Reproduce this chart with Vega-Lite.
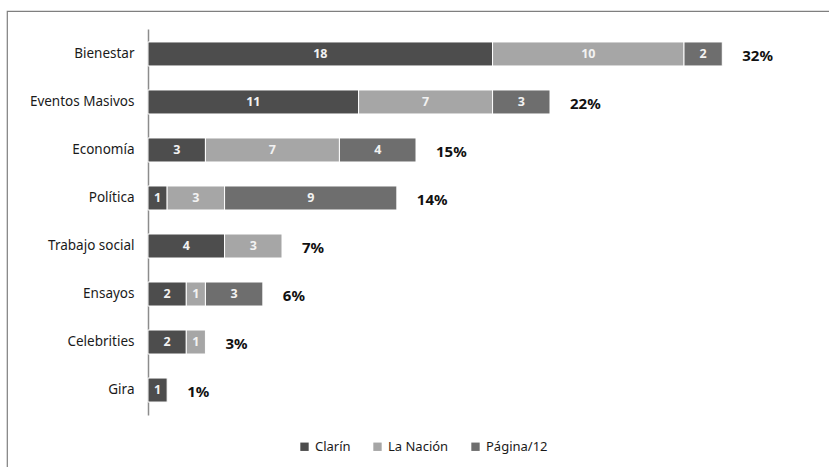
{
  "$schema": "https://vega.github.io/schema/vega-lite/v6.json",
  "width": 822,
  "height": 456,
  "autosize": {"type": "none"},
  "padding": {"left": 7, "top": 11, "right": 0, "bottom": 0},
  "background": "white",
  "config": {
    "view": {"stroke": "#7f7f7f", "strokeWidth": 1.2, "strokeDash": [822, 1278, 456, 0]},
    "font": "Noto Sans"
  },
  "datasets": {
    "seg": [
      {"tema": "Bienestar", "diario": "Clarín", "n": 18},
      {"tema": "Bienestar", "diario": "La Nación", "n": 10},
      {"tema": "Bienestar", "diario": "Página/12", "n": 2},
      {"tema": "Eventos Masivos", "diario": "Clarín", "n": 11},
      {"tema": "Eventos Masivos", "diario": "La Nación", "n": 7},
      {"tema": "Eventos Masivos", "diario": "Página/12", "n": 3},
      {"tema": "Economía", "diario": "Clarín", "n": 3},
      {"tema": "Economía", "diario": "La Nación", "n": 7},
      {"tema": "Economía", "diario": "Página/12", "n": 4},
      {"tema": "Política", "diario": "Clarín", "n": 1},
      {"tema": "Política", "diario": "La Nación", "n": 3},
      {"tema": "Política", "diario": "Página/12", "n": 9},
      {"tema": "Trabajo social", "diario": "Clarín", "n": 4},
      {"tema": "Trabajo social", "diario": "La Nación", "n": 3},
      {"tema": "Ensayos", "diario": "Clarín", "n": 2},
      {"tema": "Ensayos", "diario": "La Nación", "n": 1},
      {"tema": "Ensayos", "diario": "Página/12", "n": 3},
      {"tema": "Celebrities", "diario": "Clarín", "n": 2},
      {"tema": "Celebrities", "diario": "La Nación", "n": 1},
      {"tema": "Gira", "diario": "Clarín", "n": 1}
    ],
    "tot": [
      {"tema": "Bienestar", "total": 30, "pct": "32%"},
      {"tema": "Eventos Masivos", "total": 21, "pct": "22%"},
      {"tema": "Economía", "total": 14, "pct": "15%"},
      {"tema": "Política", "total": 13, "pct": "14%"},
      {"tema": "Trabajo social", "total": 7, "pct": "7%"},
      {"tema": "Ensayos", "total": 6, "pct": "6%"},
      {"tema": "Celebrities", "total": 3, "pct": "3%"},
      {"tema": "Gira", "total": 1, "pct": "1%"}
    ]
  },
  "layer": [
    {
      "data": {"name": "seg"},
      "transform": [
        {"stack": "n", "groupby": ["tema"], "sort": [{"field": "diario", "order": "ascending"}], "as": ["x0", "x1"]},
        {"calculate": "(datum.x0 + datum.x1) / 2", "as": "xm"}
      ],
      "layer": [
        {
          "mark": {"type": "bar", "stroke": "white", "strokeWidth": 1},
          "encoding": {
            "y": {
              "field": "tema", "type": "nominal",
              "sort": ["Bienestar", "Eventos Masivos", "Economía", "Política", "Trabajo social", "Ensayos", "Celebrities", "Gira"],
              "scale": {"range": [18, 404], "paddingInner": 0.5, "paddingOuter": 0.27},
              "axis": {"title": null, "ticks": false, "offset": -141, "domainColor": "#8c8c8c", "domainWidth": 1.5, "labelFontSize": 13.5, "labelColor": "#1a1a1a", "labelPadding": 14, "labelFont": "Noto Sans"}
            },
            "x": {"field": "x0", "type": "quantitative", "scale": {"domain": [0, 35], "range": [141, 811]}, "axis": null},
            "x2": {"field": "x1"},
            "color": {
              "field": "diario", "type": "nominal",
              "scale": {"domain": ["Clarín", "La Nación", "Página/12"], "range": ["#4d4d4d", "#a6a6a6", "#6e6e6e"]},
              "legend": {
                "title": null, "orient": "none", "direction": "horizontal",
                "legendX": 291, "legendY": 429,
                "symbolType": "square", "symbolSize": 70, "symbolStrokeWidth": 0,
                "labelFontSize": 13, "labelColor": "#1a1a1a", "columnPadding": 20, "labelOffset": 4
              }
            }
          }
        },
        {
          "mark": {"type": "text", "fontWeight": "bold", "fontSize": 12.5, "color": "#f2f2f2", "baseline": "middle"},
          "encoding": {
            "y": {"field": "tema", "type": "nominal", "sort": ["Bienestar", "Eventos Masivos", "Economía", "Política", "Trabajo social", "Ensayos", "Celebrities", "Gira"]},
            "x": {"field": "xm", "type": "quantitative"},
            "text": {"field": "n", "type": "quantitative"}
          }
        }
      ]
    },
    {
      "data": {"name": "tot"},
      "mark": {"type": "text", "fontWeight": "bold", "fontSize": 15, "color": "#111111", "align": "left", "baseline": "middle", "dx": 20, "dy": 2},
      "encoding": {
        "y": {"field": "tema", "type": "nominal", "sort": ["Bienestar", "Eventos Masivos", "Economía", "Política", "Trabajo social", "Ensayos", "Celebrities", "Gira"]},
        "x": {"field": "total", "type": "quantitative"},
        "text": {"field": "pct", "type": "nominal"}
      }
    }
  ]
}
